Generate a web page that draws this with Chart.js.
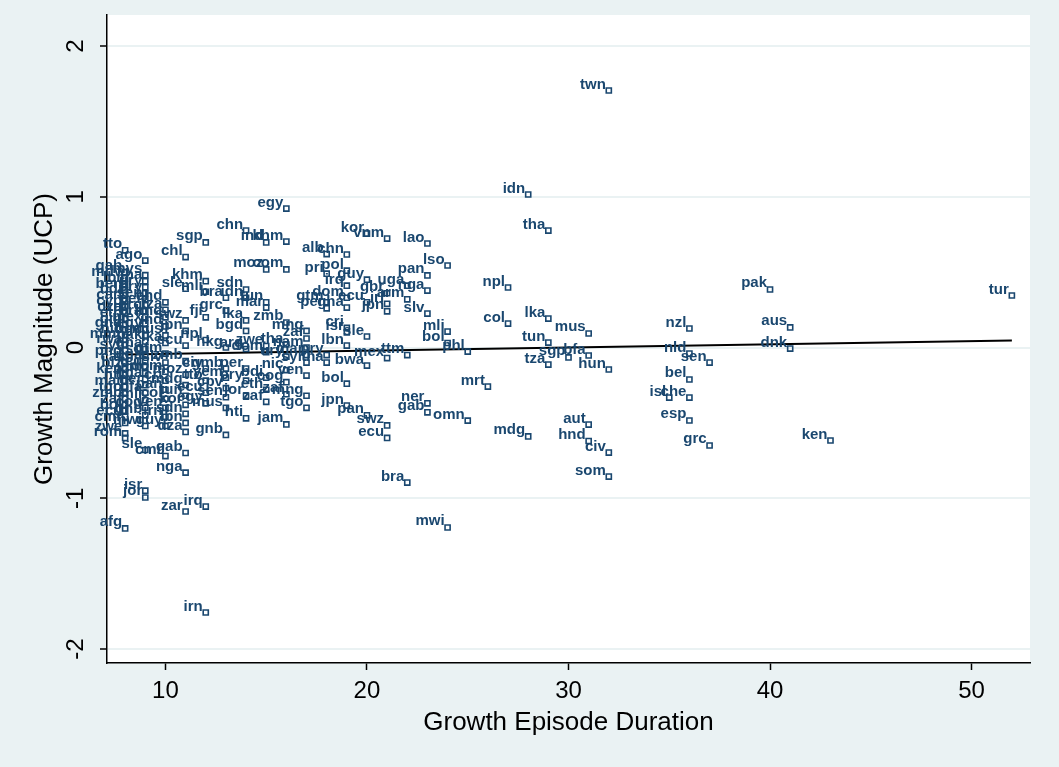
<!DOCTYPE html>
<html>
<head>
<meta charset="utf-8">
<script src="https://cdn.jsdelivr.net/npm/chart.js@4.4.1/dist/chart.umd.min.js"></script>
<style>
  html, body { margin: 0; padding: 0; background: #eaf2f3; }
  #wrap { width: 1059px; height: 767px; }
</style>
</head>
<body>
<div id="wrap"><canvas id="c" width="1059" height="767"></canvas></div>
<script>
// Country episode labels, duration (years) and growth magnitude (UCP)
const codes = [
  // x = 8
  'tto','gab','mdv','lbr','ben','bdi','can','cyp','dza','eth','gin','gnq','nic','mmr','rwa','syr',
  'png','caf','blz','ken','hti','mar','tgo','zmb','zaf','bol','ecu','cmr','zwe','rom','afg',
  // x = 9
  'ago','mys','tha','ury','pry','sen','per','arg','bra','mex','egy','bgd','pak','gha','lso','uga',
  'tcd','jam','nga','ner','bfa','mli','cog','gnb','mwi','sle','isr','jor',
  // x = 10
  'chd','tza','hnd','ind','mus','lka','gtm','slv','dom','cri','pan','col','ven','irn','guy','cmr',
  // x = 11
  'chl','sle','swz','jpn','ecu','zmb','moz','mdg','tun','kor','sdn','lbn','dza','gab','nga','zar',
  // x = 12
  'sgp','khm','mli','fji','npl','civ','tto','ecu','egy','irq','irn',
  // x = 13
  'bra','grc','hkg','gmb','yem','cpv','sen','mus','gnb',
  // x = 14
  'chn','sdn','idn','lka','bgd','arg','per','pry','jor','hti',
  // x = 15
  'ind','moz','tun','mar','zwe','dom','bdi','eth','zaf',
  // x = 16
  'egy','khm','com','zmb','tha','ury','nic','cog','zaf','jam',
  // x = 17
  'mng','zaf','nam','mar','syr','ven','mng','tgo',
  // x = 18
  'alb','pri','gtm','per','pry','tha',
  // x = 19
  'chn','pol','irq','dom','gha','cri','isr','lbn','bol','jpn',
  // x = 20
  'kor','guy','ecu','sle','bwa','pan',
  // x = 21
  'vnm','gbr','irl','jpn','mex','swz','ecu',
  // x = 22
  'uga','arm','ttm','bra',
  // x = 23
  'lao','pan','nga','slv','ner','gab',
  // x = 24
  'lso','mli','bol','mwi',
  // x = 25 .. 52
  'phl','omn','mrt','npl','col','idn','mdg','tha','lka','tun','tza','sgp','mus','bfa','aut','hnd',
  'twn','hun','civ','som','isl','nzl','nld','bel','che','esp','sen','grc','pak','aus','dnk','ken','tur'
];

const duration = [
  8,8,8,8,8,8,8,8,8,8,8,8,8,8,8,8,
  8,8,8,8,8,8,8,8,8,8,8,8,8,8,8,
  9,9,9,9,9,9,9,9,9,9,9,9,9,9,9,9,
  9,9,9,9,9,9,9,9,9,9,9,9,
  10,10,10,10,10,10,10,10,10,10,10,10,10,10,10,10,
  11,11,11,11,11,11,11,11,11,11,11,11,11,11,11,11,
  12,12,12,12,12,12,12,12,12,12,12,
  13,13,13,13,13,13,13,13,13,
  14,14,14,14,14,14,14,14,14,14,
  15,15,15,15,15,15,15,15,15,
  16,16,16,16,16,16,16,16,16,16,
  17,17,17,17,17,17,17,17,
  18,18,18,18,18,18,
  19,19,19,19,19,19,19,19,19,19,
  20,20,20,20,20,20,
  21,21,21,21,21,21,21,
  22,22,22,22,
  23,23,23,23,23,23,
  24,24,24,24,
  25,25,26,27,27,28,28,29,29,29,29,30,31,31,31,31,
  32,32,32,32,35,36,36,36,36,36,37,37,40,41,41,43,52
];

const magnitude = [
  0.645,0.50,0.46,0.42,0.38,0.35,0.31,0.27,0.23,0.19,0.15,0.12,0.08,0.05,0.02,-0.02,
  -0.06,-0.10,-0.14,-0.18,-0.22,-0.26,-0.30,-0.34,-0.38,-0.42,-0.46,-0.50,-0.57,-0.60,-1.20,
  0.577,0.48,0.44,0.40,0.36,0.32,0.28,0.24,0.20,0.16,0.12,0.08,0.04,-0.01,-0.05,-0.09,
  -0.13,-0.17,-0.21,-0.25,-0.30,-0.35,-0.40,-0.45,-0.52,-0.68,-0.95,-0.995,
  0.30,0.25,0.20,0.14,0.08,0.03,-0.04,-0.10,-0.16,-0.22,-0.28,-0.34,-0.40,-0.46,-0.52,-0.72,
  0.60,0.39,0.18,0.11,0.013,-0.09,-0.18,-0.25,-0.32,-0.38,-0.44,-0.50,-0.56,-0.70,-0.83,-1.088,
  0.697,0.44,0.37,0.20,0.05,-0.14,-0.22,-0.30,-0.37,-1.055,-1.758,
  0.33,0.245,0.0,-0.14,-0.20,-0.27,-0.33,-0.40,-0.58,
  0.776,0.385,0.33,0.18,0.11,-0.01,-0.14,-0.22,-0.32,-0.47,
  0.697,0.518,0.30,0.265,0.01,-0.03,-0.20,-0.28,-0.36,
  0.922,0.703,0.518,0.166,0.02,-0.06,-0.15,-0.23,-0.31,-0.51,
  0.11,0.06,0.0,-0.05,-0.10,-0.186,-0.32,-0.40,
  0.62,0.49,0.30,0.26,-0.05,-0.10,
  0.617,0.51,0.41,0.33,0.265,0.13,0.10,0.013,-0.24,-0.385,
  0.756,0.45,0.30,0.073,-0.12,-0.45,
  0.723,0.36,0.29,0.24,-0.07,-0.517,-0.60,
  0.41,0.32,-0.05,-0.896,
  0.69,0.478,0.378,0.225,-0.37,-0.43,
  0.544,0.106,0.03,-1.194,
  -0.027,-0.485,-0.259,0.398,0.159,1.015,-0.59,0.776,0.192,0.033,-0.113,-0.066,0.093,-0.053,-0.511,-0.62,
  1.705,-0.146,-0.697,-0.856,-0.332,0.126,-0.04,-0.212,-0.332,-0.484,-0.10,-0.65,0.385,0.133,-0.007,-0.617,0.345
];

// Fitted regression line end points
const fitX = [8, 52];
const fitY = [-0.046, 0.046];

const xTicks = [10, 20, 30, 40, 50];
const yTicks = [-2, -1, 0, 1, 2];

const NAVY = '#1a476f';
const FONT = '"Liberation Sans", Arial, sans-serif';

const points = duration.map((d, i) => ({ x: d, y: magnitude[i] }));
const fitLine = fitX.map((d, i) => ({ x: d, y: fitY[i] }));

// Paint the outer background and the white plot region
const plotBackground = {
  id: 'plotBackground',
  beforeDraw(chart) {
    const { ctx, chartArea: a } = chart;
    ctx.save();
    ctx.fillStyle = '#eaf2f3';
    ctx.fillRect(0, 0, chart.width, chart.height);
    ctx.fillStyle = '#ffffff';
    ctx.fillRect(a.left, a.top, a.right - a.left, a.bottom - a.top);
    ctx.restore();
  }
};

// Country code label to the upper left of each marker
const pointLabels = {
  id: 'pointLabels',
  afterDatasetsDraw(chart) {
    const meta = chart.getDatasetMeta(0);
    const ctx = chart.ctx;
    ctx.save();
    ctx.font = 'bold 15px ' + FONT;
    ctx.fillStyle = NAVY;
    ctx.textAlign = 'right';
    ctx.textBaseline = 'alphabetic';
    meta.data.forEach((pt, i) => {
      ctx.fillText(codes[i], pt.x - 3, pt.y - 2);
    });
    ctx.restore();
  }
};

new Chart(document.getElementById('c'), {
  type: 'scatter',
  data: {
    datasets: [
      {
        label: 'episodes',
        data: points,
        pointStyle: 'rect',
        pointRadius: 3.6,
        pointBorderWidth: 1.6,
        pointBorderColor: NAVY,
        pointBackgroundColor: 'rgba(255,255,255,0)',
        showLine: false
      },
      {
        type: 'line',
        label: 'fit',
        data: fitLine,
        borderColor: '#000000',
        borderWidth: 2,
        pointRadius: 0,
        fill: false
      }
    ]
  },
  options: {
    responsive: false,
    animation: false,
    layout: { padding: { top: 15, right: 29, left: 0, bottom: 0 } },
    plugins: {
      legend: { display: false },
      tooltip: { enabled: false }
    },
    scales: {
      x: {
        type: 'linear',
        min: 7.1,
        max: 52.9,
        afterBuildTicks: (scale) => { scale.ticks = xTicks.map(v => ({ value: v })); },
        afterFit: (scale) => {
          scale.height = 104;
          scale.paddingLeft = 0;
          scale.paddingRight = 0;
        },
        grid: {
          drawOnChartArea: false,
          drawTicks: true,
          tickLength: 7,
          tickColor: '#000000',
          tickWidth: 1.5
        },
        border: { display: true, color: '#000000', width: 1.5 },
        ticks: {
          color: '#000000',
          padding: 7,
          font: { family: FONT, size: 24 },
          callback: (v) => String(v)
        },
        title: {
          display: true,
          text: 'Growth Episode Duration',
          color: '#000000',
          font: { family: FONT, size: 26 },
          padding: { bottom: 29 }
        }
      },
      y: {
        type: 'linear',
        min: -2.093,
        max: 2.206,
        afterBuildTicks: (scale) => { scale.ticks = yTicks.map(v => ({ value: v })); },
        afterFit: (scale) => {
          scale.width = 107;
          scale.paddingTop = 0;
          scale.paddingBottom = 0;
        },
        grid: {
          color: '#eaf2f3',
          lineWidth: 2,
          drawTicks: true,
          tickLength: 7,
          tickColor: '#000000',
          tickWidth: 1.5
        },
        border: { display: true, color: '#000000', width: 1.5 },
        ticks: {
          color: '#000000',
          minRotation: 90,
          maxRotation: 90,
          crossAlign: 'center',
          padding: 13,
          font: { family: FONT, size: 24 },
          callback: (v) => String(v)
        },
        title: {
          display: true,
          text: 'Growth Magnitude (UCP)',
          color: '#000000',
          font: { family: FONT, size: 26 },
          padding: { top: 29 }
        }
      }
    }
  },
  plugins: [plotBackground, pointLabels]
});
</script>
</body>
</html>
